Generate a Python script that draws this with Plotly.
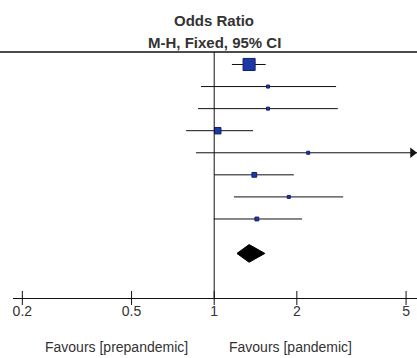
import math
import plotly.graph_objects as go

# ---- data ----
study_or = [1.34, 1.57, 1.57, 1.03, 2.20, 1.40, 1.87, 1.43]
study_low = [1.16, 0.895, 0.873, 0.79, 0.858, 1.00, 1.18, 0.996]
study_high = [1.54, 2.78, 2.82, 1.385, 6.5, 1.95, 2.95, 2.09]
study_weight = [45, 2.5, 2.5, 13, 2.5, 7, 2.5, 4.5]   # percent weight
total_or, total_low, total_high = 1.34, 1.21, 1.53
tick_vals = [0.2, 0.5, 1, 2, 5]
tick_text = ["0.2", "0.5", "1", "2", "5"]

# ---- layout geometry ----
W, H = 417, 358
x_range = [-0.733, 0.7388]      # log10 units
y_range = [10.58, -2.922]       # row units (reversed)
top_line_row = -0.566
axis_row = y_range[0]
n = len(study_or)
rows = list(range(n))
total_row = n + 0.56
diamond_half = 0.4

FONT = "Liberation Sans, Arial, sans-serif"
TXT = "#333333"

fig = go.Figure()

x_max = 10 ** x_range[1]

# CI lines
for r, lo, hi in zip(rows, study_low, study_high):
    fig.add_trace(go.Scatter(
        x=[lo, min(hi, x_max)], y=[r, r], mode="lines",
        line=dict(color="#111111", width=1), hoverinfo="skip", showlegend=False))
    if hi > x_max:
        fig.add_trace(go.Scatter(
            x=[10 ** (x_range[1] - 4.5 / 274.5)], y=[r], mode="markers",
            marker=dict(symbol="triangle-right", size=9, color="#111111"),
            cliponaxis=False, hoverinfo="skip", showlegend=False))

# squares
sizes = [max(3, 1.8 * math.sqrt(w)) for w in study_weight]
fig.add_trace(go.Scatter(
    x=study_or, y=rows, mode="markers",
    marker=dict(symbol="square", size=sizes, color="#1d38a6", opacity=1,
                line=dict(color="#0e2068", width=1)),
    hoverinfo="skip", showlegend=False))

# summary diamond
fig.add_trace(go.Scatter(
    x=[total_low, total_or, total_high, total_or, total_low],
    y=[total_row, total_row - diamond_half, total_row, total_row + diamond_half, total_row],
    mode="lines", fill="toself", fillcolor="#000000",
    line=dict(color="#000000", width=1), hoverinfo="skip", showlegend=False))

# vertical line of no effect
fig.add_trace(go.Scatter(
    x=[1, 1], y=[top_line_row, axis_row], mode="lines",
    line=dict(color="#111111", width=1), hoverinfo="skip", showlegend=False))

# tick marks crossing the axis line
fig.add_trace(go.Scatter(
    x=tick_vals, y=[axis_row] * len(tick_vals), mode="markers",
    marker=dict(symbol="line-ns", size=10, line=dict(color="#111111", width=1)),
    cliponaxis=False, hoverinfo="skip", showlegend=False))

fig.add_shape(type="line", xref="paper", yref="y", x0=0, x1=1,
              y0=top_line_row, y1=top_line_row, line=dict(color="#111111", width=1.5))

fig.add_annotation(text="<b>Odds Ratio</b>", xref="paper", yref="paper",
                   x=214 / W, y=(298 - 21) / 298, xanchor="center", yanchor="middle",
                   showarrow=False, font=dict(family=FONT, size=15, color=TXT))
fig.add_annotation(text="<b>M-H, Fixed, 95% CI</b>", xref="paper", yref="paper",
                   x=214 / W, y=(298 - 42) / 298, xanchor="center", yanchor="middle",
                   showarrow=False, font=dict(family=FONT, size=15, color=TXT))
fig.add_annotation(text="Favours [prepandemic]", xref="paper", yref="paper",
                   x=117 / W, y=(298 - 347) / 298, xanchor="center", yanchor="middle",
                   showarrow=False, font=dict(family=FONT, size=14, color=TXT))
fig.add_annotation(text="Favours [pandemic]", xref="paper", yref="paper",
                   x=290 / W, y=(298 - 347) / 298, xanchor="center", yanchor="middle",
                   showarrow=False, font=dict(family=FONT, size=14, color=TXT))

fig.update_layout(
    width=W, height=H,
    margin=dict(l=0, r=0, t=0, b=H - 298, pad=0),
    paper_bgcolor="white", plot_bgcolor="white",
    xaxis=dict(type="log", range=x_range, domain=[13 / W, 1],
               showgrid=False, zeroline=False, showline=True,
               linecolor="#111111", linewidth=1,
               tickmode="array", tickvals=tick_vals, ticktext=tick_text,
               ticks="", ticklabeloverflow="allow",
               tickfont=dict(family=FONT, size=14, color=TXT), fixedrange=True),
    yaxis=dict(range=y_range, visible=False, fixedrange=True),
)

fig.write_html(
    "out.html",
    config={"displayModeBar": False},
    post_script="document.body.style.margin='0';document.body.style.overflow='hidden';",
)
